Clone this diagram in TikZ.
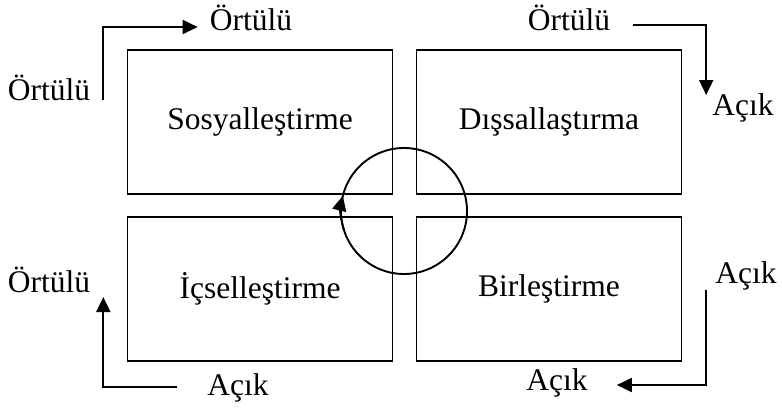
\documentclass[tikz,border=0pt]{standalone}
\usepackage{fontspec}
\setmainfont{Liberation Serif}
\usetikzlibrary{arrows.meta,positioning}

\begin{document}
\begin{tikzpicture}[
    x=1pt, y=1pt,
    font=\fontsize{31.5}{36}\selectfont,
    mode/.style = {draw, line width=1.9pt, minimum width=265pt, minimum height=144pt, inner sep=0pt},
    tag/.style = {inner sep=0pt, anchor=base},
    flow/.style = {line width=1.9pt, -{Triangle[length=15pt, width=14pt]}}
]
    \useasboundingbox (0,0) rectangle (782,-413);

    % the four modes
    \node[mode] (sos) at (260,-122) {Sosyalleştirme};
    \node[mode] (dis) at (549,-122) {Dışsallaştırma};
    \node[mode] (ics) at (260,-289) {İçselleştirme};
    \node[mode] (bir) at (549,-289) {Birleştirme};

    % the spiral in the middle
    \coordinate (hub) at (404,-211);
    \draw[line width=1.9pt] (hub) circle[radius=63];
    \draw[flow] ([shift={(198:63)}]hub) arc[start angle=198, end angle=166, radius=63];

    % outer labels
    \node[tag] (ol1) at (49,-100) {Örtülü};
    \node[tag] (ot1) at (251,-30) {Örtülü};
    \node[tag] (ot2) at (569,-30) {Örtülü};
    \node[tag] (ar1) at (743,-115) {Açık};
    \node[tag] (ol2) at (49,-292) {Örtülü};
    \node[tag] (ab1) at (238,-395) {Açık};
    \node[tag] (ar2) at (746,-283) {Açık};
    \node[tag] (ab2) at (557,-390) {Açık};

    \draw[flow] ([xshift=13pt]ol1.base east) |- ([shift={(-12pt,3pt)}]ot1.base west);
    \draw[flow] ([shift={(23pt,5pt)}]ot2.base east) -| ([shift={(-6pt,20pt)}]ar1.base west);
    \draw[flow] ([shift={(-30pt,8pt)}]ab1.base west) -| ([shift={(13pt,-5pt)}]ol2.base east);
    \draw[flow] ([shift={(-9pt,-7pt)}]ar2.base west) |- ([shift={(29pt,5pt)}]ab2.base east);
\end{tikzpicture}
\end{document}
